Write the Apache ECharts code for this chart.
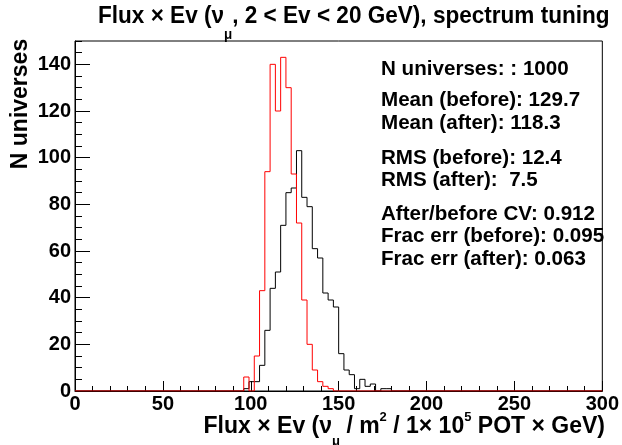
<!DOCTYPE html>
<html>
<head>
<meta charset="utf-8">
<script src="https://cdn.jsdelivr.net/npm/echarts@6/dist/echarts.min.js"></script>
<style>
  html, body { margin: 0; padding: 0; background: #fff; }
  #chart { width: 622px; height: 445px; }
</style>
</head>
<body>
<div id="chart"></div>
<script>
// Histogram binning: 100 bins of width 3 over [0, 300]
const xMin = 0;
const xMax = 300;
const binWidth = 3;
const firstBinLow = 96;

// Entries per bin, starting at firstBinLow
const countsBefore = [1, 4, 4, 11, 26, 44, 51, 71, 85, 87, 103, 83, 79, 61, 57, 42, 39, 36, 16, 9, 7, 1, 5, 2, 3, 0, 1, 1];
const countsAfter = [6, 0, 15, 43, 94, 140, 120, 143, 130, 93, 72, 39, 20, 9, 4, 2, 1];

// Axis ticks
const xTickStep = 50;
const yTickStep = 20;
const yMinorStep = 5;
const yMax = 150;

// Statistics box
const statLines = [
  'N universes: : 1000',
  'Mean (before): 129.7',
  'Mean (after): 118.3',
  'RMS (before): 12.4',
  'RMS (after):  7.5',
  'After/before CV: 0.912',
  'Frac err (before): 0.095',
  'Frac err (after): 0.063'
];
const statY = [69, 100, 123, 158, 180.5, 214, 236.5, 259.5];

// Turn bin contents into the outline of a step histogram over the full range
function stepOutline(counts) {
  const pts = [[xMin, 0]];
  let prev = 0;
  counts.forEach(function (c, i) {
    const lo = firstBinLow + i * binWidth;
    pts.push([lo, prev]);
    pts.push([lo, c]);
    prev = c;
  });
  const end = firstBinLow + counts.length * binWidth;
  pts.push([end, prev]);
  pts.push([end, 0]);
  pts.push([xMax, 0]);
  return pts;
}

const FONT = '"Liberation Sans", Arial, Helvetica, sans-serif';

const chart = echarts.init(document.getElementById('chart'), null, { renderer: 'canvas' });

// Sub/superscripts are shifted with padding inside vertically centred tokens
const graphics = [
  {
    type: 'text',
    x: 98, y: 17,
    scaleX: 0.96,
    style: {
      text: '{m|Flux × Ev (ν}{sub|μ}{m|, 2 < Ev < 20 GeV), spectrum tuning}',
      align: 'left', verticalAlign: 'middle',
      rich: {
        m: { font: 'bold 23.5px ' + FONT, fill: '#000', lineHeight: 26 },
        sub: { font: 'bold 14px ' + FONT, fill: '#000', lineHeight: 15, padding: [37, 0, 0, 0] }
      }
    }
  },
  {
    type: 'text',
    x: 605, y: 427,
    style: {
      text: '{m|Flux × Ev (ν}{sub|μ}{m| / m}{sup|2}{m| / 1× 10}{sup|5}{m| POT × GeV)}',
      align: 'right', verticalAlign: 'middle',
      rich: {
        m: { font: 'bold 23px ' + FONT, fill: '#000', lineHeight: 26 },
        sub: { font: 'bold 13px ' + FONT, fill: '#000', lineHeight: 15, padding: [28, 0, 0, 0] },
        sup: { font: 'bold 13px ' + FONT, fill: '#000', lineHeight: 15, padding: [0, 0, 20, 0] }
      }
    }
  },
  {
    type: 'text',
    x: 21, y: 104,
    rotation: Math.PI / 2,
    style: {
      text: 'N universes',
      font: 'bold 23px ' + FONT,
      fill: '#000',
      align: 'center', verticalAlign: 'middle'
    }
  }
];

statLines.forEach(function (t, i) {
  graphics.push({
    type: 'text',
    x: 381, y: statY[i],
    style: {
      text: t,
      font: 'bold 20.6px ' + FONT,
      fill: '#000',
      align: 'left', verticalAlign: 'middle'
    }
  });
});

const option = {
  animation: false,
  backgroundColor: '#fff',
  grid: {
    left: 75, right: 17, top: 41, bottom: 54,
    show: true, borderColor: '#000', borderWidth: 1, backgroundColor: 'transparent'
  },
  xAxis: {
    type: 'value',
    min: xMin, max: xMax, interval: xTickStep,
    axisLine: { show: true, onZero: false, lineStyle: { color: '#000', width: 1 } },
    axisTick: { show: true, inside: true, length: 10, lineStyle: { color: '#000', width: 1 } },
    minorTick: { show: true, splitNumber: 5, length: 5, lineStyle: { color: '#000', width: 1 } },
    splitLine: { show: false },
    axisLabel: {
      color: '#000', fontFamily: FONT, fontWeight: 'bold', fontSize: 20, margin: 3
    }
  },
  yAxis: [
    {
      type: 'value',
      min: 0, max: yMax, interval: yTickStep,
      axisLine: { show: true, lineStyle: { color: '#000', width: 1 } },
      axisTick: { show: true, inside: true, length: 15, lineStyle: { color: '#000', width: 1 } },
      splitLine: { show: false },
      axisLabel: {
        color: '#000', fontFamily: FONT, fontWeight: 'bold', fontSize: 20, margin: 4,
        showMaxLabel: false
      }
    },
    {
      type: 'value',
      position: 'left',
      min: 0, max: yMax, interval: yMinorStep,
      axisLine: { show: false },
      axisTick: { show: true, inside: true, length: 7, lineStyle: { color: '#000', width: 1 } },
      splitLine: { show: false },
      axisLabel: { show: false }
    }
  ],
  series: [
    {
      name: 'before',
      type: 'line',
      data: stepOutline(countsBefore),
      showSymbol: false,
      symbol: 'none',
      lineStyle: { color: '#000', width: 1 },
      z: 3
    },
    {
      name: 'after',
      type: 'line',
      data: stepOutline(countsAfter),
      showSymbol: false,
      symbol: 'none',
      lineStyle: { color: '#ff0000', width: 1 },
      z: 4
    }
  ],
  graphic: graphics
};

chart.setOption(option);
</script>
</body>
</html>
